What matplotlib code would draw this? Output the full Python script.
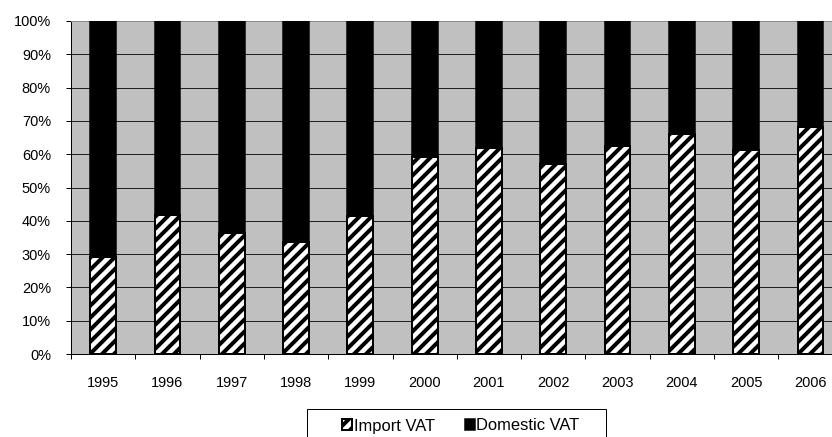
import matplotlib
matplotlib.use("Agg")
import matplotlib.pyplot as plt
from matplotlib.patches import Rectangle
from matplotlib.ticker import FuncFormatter, MultipleLocator, FixedLocator

# data (share of total VAT, %)
years = ['1995', '1996', '1997', '1998', '1999', '2000',
         '2001', '2002', '2003', '2004', '2005', '2006']
import_vat = [29.2, 41.7, 36.4, 33.6, 41.5, 59.2, 62.0, 57.0, 62.4, 66.2, 61.2, 68.2]
domestic_vat = [100 - v for v in import_vat]

plt.rcParams['font.family'] = ['Liberation Sans', 'DejaVu Sans']
plt.rcParams['hatch.linewidth'] = 4

DPI = 72
fig = plt.figure(figsize=(832 / DPI, 437 / DPI), dpi=DPI)
ax = fig.add_axes([71 / 832, 83 / 437, 12 * 64.3 / 832, 333 / 437])
ax.set_facecolor('#C0C0C0')

x = list(range(len(years)))
b1 = ax.bar(x, import_vat, width=0.4, color='white', edgecolor='black',
            linewidth=2, hatch='//', zorder=3, label='Import VAT')
b2 = ax.bar(x, domestic_vat, width=0.4, bottom=import_vat, color='black',
            edgecolor='black', linewidth=1.5, zorder=3, label='Domestic VAT')

ax.set_xlim(-0.5, len(years) - 0.5)
ax.set_ylim(0, 100)

# y axis
ax.yaxis.set_major_locator(MultipleLocator(10))
ax.yaxis.set_major_formatter(FuncFormatter(lambda v, p: '%d%%' % v))
ax.grid(axis='y', color='#202020', linewidth=1, zorder=1)
ax.set_axisbelow(True)
ax.tick_params(axis='y', direction='out', length=5, width=1, pad=15,
               labelsize=14.5, colors='black')

# x axis: labels at centres, tick marks between categories
ax.set_xticks(x)
ax.set_xticklabels(years)
ax.xaxis.set_minor_locator(FixedLocator([i - 0.5 for i in range(len(years) + 1)]))
ax.tick_params(axis='x', which='major', length=0, pad=22, labelsize=14.5)
ax.tick_params(axis='x', which='minor', direction='out', length=5, width=1)

for s in ['left', 'bottom']:
    ax.spines[s].set_color('black')
    ax.spines[s].set_linewidth(1)
ax.spines['top'].set_color('#8a8a8a')
ax.spines['top'].set_linewidth(1)
ax.spines['right'].set_visible(False)

# legend box at the bottom, partly cut off
fig.patches.append(Rectangle((307.3 / 832, -0.1), 298.4 / 832, 0.1 + 1 - 409.3 / 437,
                             transform=fig.transFigure, facecolor='white',
                             edgecolor='black', linewidth=1, zorder=0))
leg = fig.legend(handles=[b1, b2], loc='center', ncol=2, frameon=False,
                 bbox_to_anchor=(461 / 832, 1 - 426 / 437), fontsize=16.5,
                 handlelength=0.6, handleheight=0.6, handletextpad=0.1,
                 columnspacing=1.8, borderpad=0)

fig.savefig('out.png', dpi=DPI)
